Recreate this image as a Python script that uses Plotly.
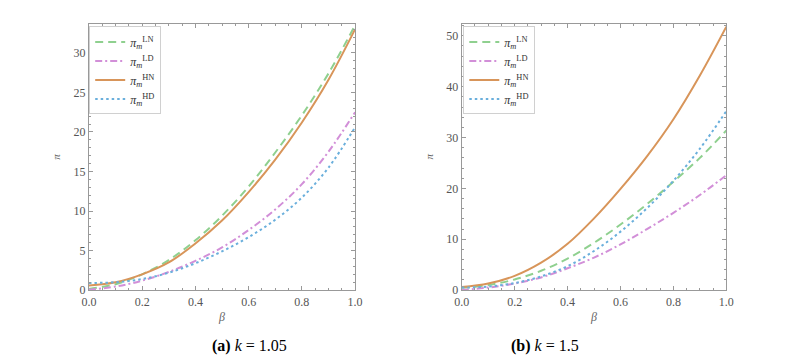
import plotly.graph_objects as go
from plotly.subplots import make_subplots

beta = [0.0, 0.1, 0.2, 0.3, 0.4, 0.5, 0.6, 0.7, 0.8, 0.9, 1.0]

# (a) k = 1.05
ln_a = [0.15, 0.75, 2.0, 3.8, 6.3, 9.4, 13.1, 17.4, 22.1, 27.4, 33.5]
ld_a = [0.05, 0.45, 1.2, 2.3, 3.7, 5.4, 7.6, 10.2, 13.4, 17.5, 22.5]
hn_a = [0.6, 1.0, 2.0, 3.5, 5.9, 8.8, 12.4, 16.5, 21.2, 26.6, 33.0]
hd_a = [0.9, 1.0, 1.4, 2.2, 3.4, 4.9, 6.7, 8.9, 11.7, 15.5, 20.6]

# (b) k = 1.5
ln_b = [0.45, 1.0, 2.1, 3.8, 6.2, 9.3, 12.9, 16.9, 21.3, 26.0, 31.4]
ld_b = [0.05, 0.5, 1.3, 2.5, 4.3, 6.4, 9.0, 12.0, 15.2, 18.7, 22.6]
hn_b = [0.6, 1.3, 2.8, 5.4, 9.1, 14.1, 19.9, 26.3, 33.6, 42.2, 51.8]
hd_b = [0.5, 0.7, 1.4, 2.7, 4.7, 7.7, 11.5, 16.1, 21.5, 27.8, 35.2]

names = ["LN", "LD", "HN", "HD"]
colors = ["#8fd08f", "#d28fd8", "#d8955a", "#6aafdc"]
dashes = ["8px,5px", "7px,3px,2px,3px", "solid", "2.5px,3px"]
captions = ["<b>(a)</b> <i>k</i> = 1.05", "<b>(b)</b> <i>k</i> = 1.5"]

SERIF = "Liberation Serif"
GRAY = "#999999"

fig = make_subplots(rows=1, cols=2)

panels = [(ln_a, ld_a, hn_a, hd_a), (ln_b, ld_b, hn_b, hd_b)]
for col, series in enumerate(panels, start=1):
    for name, ys, c, d in zip(names, series, colors, dashes):
        fig.add_trace(go.Scatter(
            x=beta, y=ys, mode="lines",
            line=dict(color=c, dash=d, width=2, shape="spline"),
            name="<i>π</i><sub><i>m</i></sub><sup>%s</sup>" % name,
            legend="legend" if col == 1 else "legend2",
        ), row=1, col=col)

axis_common = dict(
    showgrid=False, zeroline=False, showline=True, mirror="allticks",
    linecolor=GRAY, linewidth=1, ticks="inside", ticklen=4, tickcolor=GRAY,
    tickfont=dict(family=SERIF, size=12, color="#555555"),
    minor=dict(ticks="inside", ticklen=2, tickcolor=GRAY),
)

fig.update_xaxes(axis_common, range=[0, 1], dtick=0.2, tickformat=".1f",
                 minor_dtick=0.05,
                 title=dict(text="<i>β</i>", standoff=5,
                            font=dict(family=SERIF, size=12, color="#666666")))
fig.update_yaxes(axis_common,
                 title=dict(text="<i>π</i>", standoff=10,
                            font=dict(family=SERIF, size=11, color="#666666")))

legend_style = dict(xanchor="left", yanchor="top",
                    bgcolor="white", bordercolor="#d0d0d0", borderwidth=1,
                    font=dict(family=SERIF, size=12, color="#333333"),
                    itemwidth=30, tracegroupgap=0)

fig.update_layout(
    width=796, height=361,
    margin=dict(l=0, r=0, t=0, b=0),
    paper_bgcolor="white", plot_bgcolor="white",
    xaxis=dict(domain=[0.0946, 0.4355]),
    xaxis2=dict(domain=[0.572, 0.9108]),
    yaxis=dict(domain=[0.203, 0.956], range=[0, 33.7], dtick=5, minor_dtick=1),
    yaxis2=dict(domain=[0.203, 0.956], range=[0, 52.4], dtick=10, minor_dtick=2),
    legend=dict(legend_style, x=0.095, y=0.948),
    legend2=dict(legend_style, x=0.574, y=0.948),
    font=dict(family=SERIF),
)

for xc, text in zip([0.25, 0.725], captions):
    fig.add_annotation(x=xc, y=1 - 345 / 361, xref="paper", yref="paper",
                       yanchor="middle", text=text, showarrow=False,
                       font=dict(family=SERIF, size=16, color="black"))

fig.write_html("out.html")
